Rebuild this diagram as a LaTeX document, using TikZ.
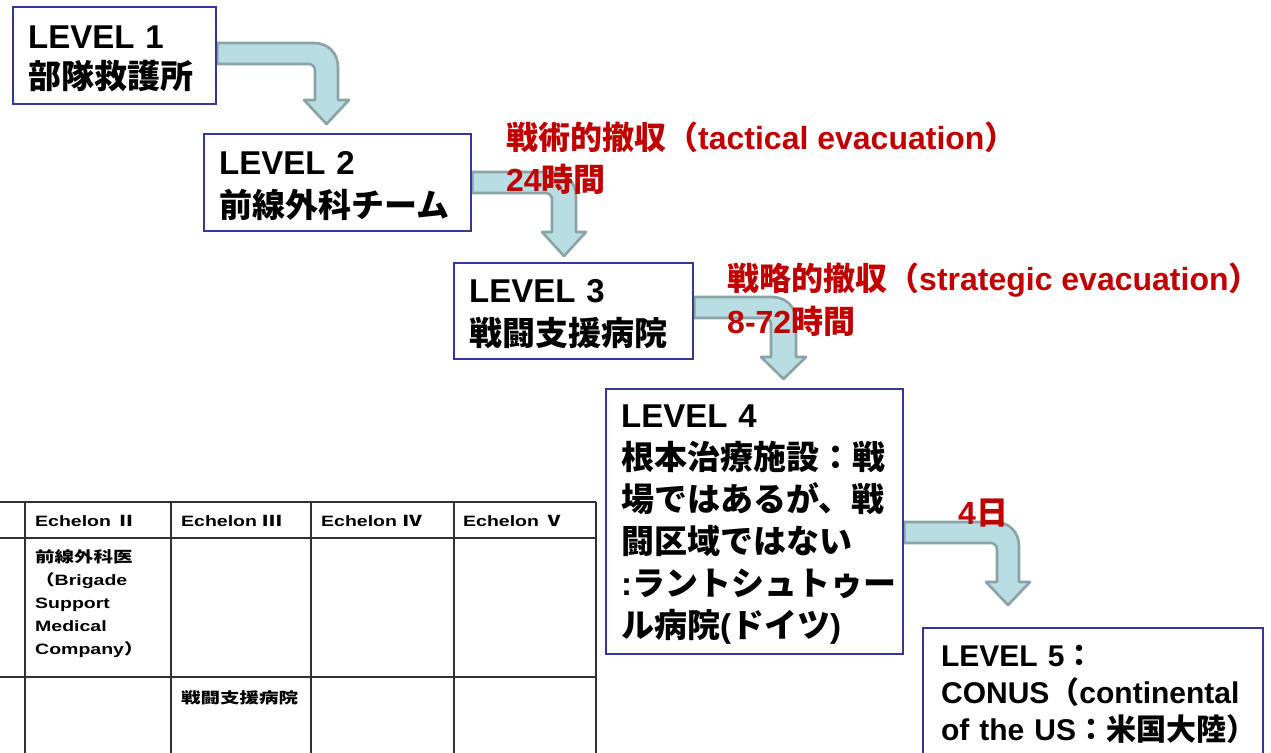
\documentclass[tikz,border=0pt]{standalone}
\usepackage{fontspec}
\setmainfont{Liberation Sans}
\newfontfamily\jpf{Noto Sans CJK JP}
\newfontfamily\tblf{Liberation Sans Bold}[FakeStretch=1.3]
\newfontfamily\tbljpf{Noto Sans CJK JP}[FakeStretch=1.3]
\newcommand\jp[1]{{\jpf #1}}
\newcommand\tjp[1]{{\tbljpf\bfseries #1}}
\newcommand\fl{\rule{0pt}{0.88em}}
\usetikzlibrary{backgrounds}
\definecolor{boxblue}{HTML}{363696}
\definecolor{arrfill}{HTML}{B8DDE2}
\definecolor{arredge}{HTML}{8AA3A5}
\definecolor{lblred}{HTML}{C00000}
\definecolor{tblline}{HTML}{303030}
\tikzset{
  levelbox/.style={draw=boxblue, line width=2.2pt, fill=white, anchor=north west,
    inner xsep=15pt, inner ysep=0pt, align=left},
  boxfont/.style={font=\bfseries\fontsize{33}{#1}\selectfont},
  bentarrow/.style={fill=arrfill, draw=arredge, line width=2.6pt, line join=round},
  redlbl/.style={text=lblred, anchor=west, inner sep=0pt, font=\bfseries\fontsize{32}{38}\selectfont},
  tbltext/.style={anchor=west, inner sep=0pt, align=left, font=\tblf\fontsize{15}{23}\selectfont},
  tblrule/.style={draw=tblline, line width=1.8pt}
}
% #1 source node, #2 band top y, #3 band bottom y, #4 shaft left x, #5 shaft right x,
% #6 head top y, #7 head overhang, #8 tip y
\newcommand\bentarr[8]{%
  \filldraw[bentarrow] (#1.east |- 0,#2) -- ({#5-24},#2)
    .. controls ({#5-10},#2) and (#5,{#2+10}) .. (#5,{#2+24})
    -- (#5,#6) -- ({#5+#7},#6) -- ({(#4+#5)/2},#8) -- ({#4-#7},#6) -- (#4,#6)
    -- (#4,{#3+6}) .. controls (#4,{#3+3}) and ({#4-3},#3) .. ({#4-6},#3)
    -- (#1.east |- 0,#3) -- cycle;}
\begin{document}
\begin{tikzpicture}[x=1pt,y=-1pt]
\useasboundingbox (0,0) rectangle (1271,752);

% level boxes
\node[levelbox, boxfont=40, text width=173pt, minimum height=97pt] (L1) at (12,6)
  {\fl LEVEL 1\\\jp{部隊救護所}};
\node[levelbox, boxfont=43, text width=237pt, minimum height=97pt] (L2) at (203,133)
  {\fl LEVEL 2\\\jp{前線外科チーム}};
\node[levelbox, boxfont=43, text width=209pt, minimum height=96pt] (L3) at (453,262)
  {\fl LEVEL 3\\\jp{戦闘支援病院}};
\node[levelbox, boxfont=42, text width=267pt, minimum height=265pt] (L4) at (605,388)
  {\fl LEVEL 4\\\jp{根本治療施設：戦}\\\jp{場ではあるが、戦}\\\jp{闘区域ではない}\\:\jp{ラントシュトゥー}\\\jp{ル病院}(\jp{ドイツ})};
\node[levelbox, font=\bfseries\fontsize{30}{37}\selectfont, inner xsep=18pt, inner ysep=17pt,
  text width=304pt] (L5) at (922,627)
  {\mbox{LEVEL 5\jp{：}}\\\mbox{CONUS\jp{（}continental}\\\mbox{of the US\jp{：米国大陸）}}};

% connectors
\begin{pgfonlayer}{background}
\fill[white] (0,0) rectangle (1271,752);
\bentarr{L1}{43}{64}{315}{338}{100}{11}{124}
\bentarr{L2}{172}{193}{552}{576}{232}{10}{256}
\bentarr{L3}{297}{318}{771}{796}{357}{10}{379}
\bentarr{L4}{522}{543}{997}{1019}{582}{11}{605}
\end{pgfonlayer}

% red labels
\node[redlbl] (r1) at (506,137) {\jp{戦術的撤収（}tactical evacuation\jp{）}};
\node[redlbl] (r2) at (506,179) {24\jp{時間}};
\node[redlbl] (r3) at (727,280) {\jp{戦略的撤収（}strategic evacuation\jp{）}};
\node[redlbl] (r4) at (727,321) {8-72\jp{時間}};
\node[redlbl] (r5) at (958,513) {4\jp{日}};

% table fragment
\foreach \yy in {502,538,677} \draw[tblrule] (0,\yy) -- (596,\yy);
\foreach \xx in {25,171,311,454,596} \draw[tblrule] (\xx,502) -- (\xx,760);
\node[tbltext] (h2) at (35,521) {Echelon \tjp{Ⅱ}};
\node[tbltext] (h3) at (181,521) {Echelon \tjp{Ⅲ}};
\node[tbltext] (h4) at (321,521) {Echelon \tjp{Ⅳ}};
\node[tbltext] (h5) at (463,521) {Echelon \tjp{Ⅴ}};
\node[tbltext] (c22) at (35,604) {\tjp{前線外科医}\\\tjp{（}Brigade\\Support\\Medical\\Company\tjp{）}};
\node[tbltext] (c33) at (181,698) {\tjp{戦闘支援病院}};
\end{tikzpicture}
\end{document}
